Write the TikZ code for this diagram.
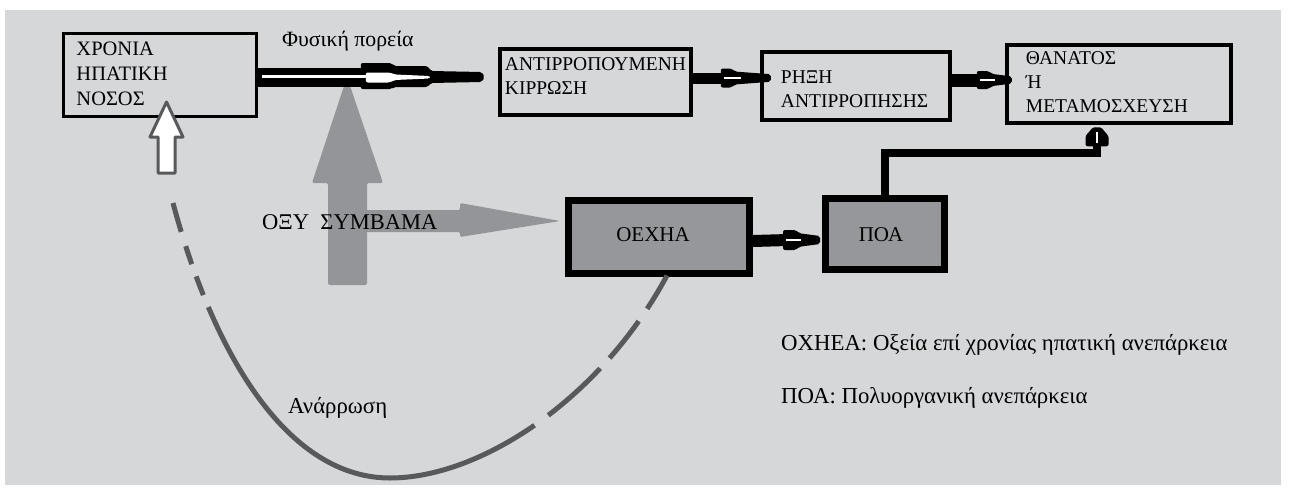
\documentclass[tikz,border=0pt]{standalone}
\usepackage{fontspec}
\setmainfont{Liberation Serif}
\usetikzlibrary{calc}
\definecolor{bg}{HTML}{D6D7D9}
\definecolor{garrow}{HTML}{939598}
\definecolor{dgray}{HTML}{58595B}
\definecolor{boxfill}{HTML}{95979A}
\begin{document}
\begin{tikzpicture}[x=1pt,y=-1pt,
  box/.style={draw=black, line width=4.5pt, inner sep=0pt},
  gbox/.style={draw=black, fill=boxfill, line width=7pt, inner sep=0pt},
  lbl/.style={font=\fontsize{19.5}{24}\selectfont, align=left, inner sep=0pt, anchor=north west},
  glbl/.style={font=\fontsize{21}{24}\selectfont, inner sep=0pt, anchor=base},
  note/.style={font=\fontsize{22.8}{24}\selectfont, inner sep=0pt, anchor=base west},
  shaft/.style={line width=#1, black},
  pics/bhead/.style n args={4}{code={
    \fill[black, rounded corners=2pt] (-#1,-#2) -- (-#1+#3,-#2) -- (-#1+#3+3,-0.68*#2) -- (0,-0.4*#2) -- (0,0.4*#2) -- (-#1+#3+3,0.68*#2) -- (-#1+#3,#2) -- (-#1,#2) -- cycle;
    \draw[white, line width=1.8pt] (-#1+3,0) -- (-#1+#4,0);
  }}
]
\useasboundingbox (0,0) rectangle (1289,487);
\fill[white] (0,0) rectangle (1289,487);
\fill[bg] (5,10) rectangle (1281,485);

% big grey arrows
\fill[garrow, rounded corners=2pt] (328,285) -- (328,183) -- (312,183) -- (347,77) -- (383,183) -- (367,183) -- (367,285) -- cycle;
\fill[garrow, rounded corners=1.5pt] (350,210) -- (460,210) -- (460,203) -- (560,221) -- (460,237) -- (460,232) -- (350,232) -- cycle;
\node[note, font=\fontsize{22.5}{24}\selectfont] (oxy) at (262,229) {ΟΞΥ\ \ ΣΥΜΒΑΜΑ};

% boxes
\node[box, line width=3.5pt, minimum width=193pt, minimum height=83pt] (b1) at (160,75) {};
\node[box, minimum width=191pt, minimum height=66pt] (b2) at (595.5,82) {};
\node[box, minimum width=188pt, minimum height=68pt] (b3) at (856,86) {};
\node[box, minimum width=224pt, minimum height=78pt] (b4) at (1119,84) {};
\node[gbox, minimum width=181pt, minimum height=73pt] (g1) at (659,237) {};
\node[gbox, minimum width=119pt, minimum height=71pt] (p) at (885,234) {};

\node[lbl, font=\fontsize{20.5}{25}\selectfont] (t1) at ($(b1.north west)+(14.5,9.5)$) {ΧΡΟΝΙΑ\\ΗΠΑΤΙΚΗ\\ΝΟΣΟΣ};
\node[lbl] (t2) at ($(b2.north west)+(7,11)$) {ΑΝΤΙΡΡΟΠΟΥΜΕΝΗ\\ΚΙΡΡΩΣΗ};
\node[lbl] (t3) at ($(b3.north west)+(21,21)$) {ΡΗΞΗ\\ΑΝΤΙΡΡΟΠΗΣΗΣ};
\node[lbl] (t4) at ($(b4.north west)+(21,9)$) {ΘΑΝΑΤΟΣ\\Ή\\ΜΕΤΑΜΟΣΧΕΥΣΗ};
\node[glbl] (t5) at ($(g1)+(-6,4)$) {ΟΕΧΗΑ};
\node[glbl] (t6) at ($(p)+(-4,7)$) {ΠΟΑ};

% natural course double arrow
\coordinate (fp) at ($(b2.west)+(-13,-5)$);
\draw[line width=19pt] ($(b1.east)+(0,2.5)$) -- ($(fp)+(-118,0.5)$);
\fill[black, rounded corners=2pt] ($(fp)+(-124,-14)$) -- ($(fp)+(-93,-14)$) -- ($(fp)+(-91,-11)$) -- ($(fp)+(-57,-11)$) -- ($(fp)+(-54,-6)$) -- ($(fp)+(-3,-5)$) -- (fp) -- ($(fp)+(-3,5)$) -- ($(fp)+(-54,6)$) -- ($(fp)+(-57,10)$) -- ($(fp)+(-91,10)$) -- ($(fp)+(-93,12)$) -- ($(fp)+(-124,12)$) -- cycle;
\draw[white, line width=3pt] ($(b1.east)+(3.5,1.5)$) -- ($(fp)+(-110,-0.5)$);
\fill[white, rounded corners=2pt] ($(fp)+(-119,-4.5)$) -- ($(fp)+(-95,-4.5)$) -- ($(fp)+(-90,-2.5)$) -- ($(fp)+(-55,-1)$) -- ($(fp)+(-55,1.5)$) -- ($(fp)+(-90,3)$) -- ($(fp)+(-95,5.5)$) -- ($(fp)+(-119,5.5)$) -- cycle;
\node[note, font=\fontsize{21.8}{24}\selectfont] (fys) at (282,47) {Φυσική πορεία};

% black arrows between boxes
\coordinate (a23) at ($(b3.west)+(11,-8)$);
\draw[shaft=11pt] ($(b2.east)+(0,-4)$) -- ($(a23)+(-45,0)$);
\pic at (a23) {bhead={50}{9.5}{11}{20}};
\coordinate (a34) at ($(b4.west)+(7,-4)$);
\draw[shaft=13pt] ($(b3.east)+(0,-6)$) -- ($(a34)+(-30,0)$);
\pic at (a34) {bhead={35}{9}{12}{18}};
\coordinate (agp) at ($(p.west)+(-2,6)$);
\draw[shaft=12pt] ($(g1.east)+(0,4)$) -- ($(agp)+(-32,0)$);
\pic at (agp) {bhead={37}{10}{13}{18}};
\coordinate (ap4) at ($(b4.south)+(-22,2)$);
\draw[shaft=8pt, line join=miter] (p.north) -- ($(p.north)+(0,-42.5)$) -| ($(ap4)+(0,16)$);
\pic[rotate=90] at (ap4) {bhead={19}{11.5}{11}{14}};

% recovery
\draw[dgray, line width=3pt, fill=white, line join=round] (158,173) -- (158,137) -- (150,137) -- (166.5,102) -- (183,137) -- (175,137) -- (175,173) -- cycle;
\coordinate (rs) at (173,203);
\draw[dgray, line width=5pt, dash pattern=on 30pt off 15pt on 19pt off 13pt on 20pt off 13pt on 420pt off 17pt on 70pt off 14pt on 47pt off 15pt on 60pt] (rs) .. controls (215,360) and (290,478) .. (390,478) .. controls (480,478) and (600,400) .. ($(g1.south)+(8,-1.5)$);
\node[note] (anr) at (288,413) {Ανάρρωση};

% legend
\node[note] (l1) at (781,350) {ΟΧΗΕΑ: Οξεία επί χρονίας ηπατική ανεπάρκεια};
\node[note] (l2) at (781,403) {ΠΟΑ: Πολυοργανική ανεπάρκεια};
\end{tikzpicture}
\end{document}
